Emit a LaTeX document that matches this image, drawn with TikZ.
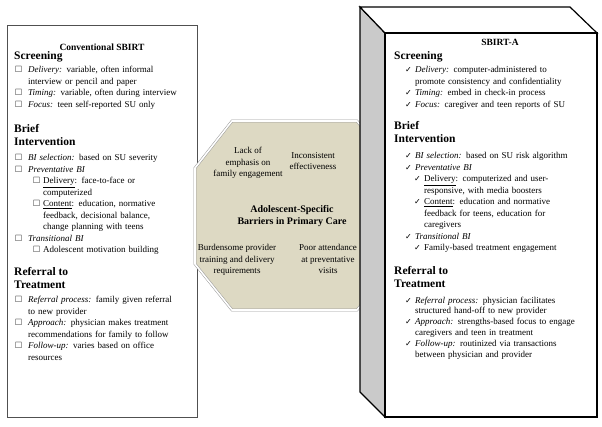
\documentclass[tikz,border=0pt]{standalone}
\usepackage{fontspec}
\usepackage{amssymb}
\setmainfont{Liberation Serif}
\newfontfamily\chkfont{DejaVu Sans}
\definecolor{octfill}{HTML}{DDD9C3}
\definecolor{sidegray}{HTML}{CACACA}
\definecolor{boxline}{HTML}{505050}

\newcommand{\sqitem}[1]{\par\noindent\hspace*{1pt}\makebox[13pt][l]{$\square$}#1}
\newcommand{\sqsub}[1]{\par\noindent\hspace*{19pt}\makebox[10pt][l]{$\square$}#1}
\newcommand{\ckitem}[1]{\par\noindent\hspace*{11pt}\makebox[10pt][l]{\chkfont\footnotesize ✓}#1}
\newcommand{\cksub}[1]{\par\noindent\hspace*{20pt}\makebox[10pt][l]{\chkfont\footnotesize ✓}#1}
\newcommand{\more}[2]{\par\noindent\hspace*{#1}#2}

\tikzset{
	listtext/.style={anchor=north west, inner sep=0pt, text width=210pt, align=left, font=\fontsize{9}{11.5}\selectfont},
	heading/.style={anchor=north west, inner sep=0pt, align=left, font=\fontsize{11.5}{13}\selectfont\bfseries},
	boxtitle/.style={inner sep=0pt, font=\fontsize{9.5}{11}\selectfont\bfseries},
	barrier/.style={inner sep=0pt, align=center, font=\fontsize{9}{11.5}\selectfont},
}

\begin{document}
\begin{tikzpicture}[x=1pt,y=-1pt]
	\useasboundingbox[fill=white] (0,0) rectangle (602,426);
	% conventional SBIRT
	\draw[boxline,line width=0.8pt] (7,25) rectangle (197,417);
	\node[boxtitle] (convtitle) at (102,47) {Conventional SBIRT};
	\node[heading] (lscreen) at (14,51) {Screening};
	\node[listtext] (lscreenitems) at (14,61) {
		\sqitem{\textit{Delivery:} variable, often informal}
		\more{14pt}{interview or pencil and paper}
		\sqitem{\textit{Timing:} variable, often during interview}
		\sqitem{\textit{Focus:} teen self-reported SU only}};
	\node[heading] (lbrief) at (14,124) {Brief\\Intervention};
	\node[listtext] (lbriefitems) at (14,149) {
		\sqitem{\textit{BI selection:} based on SU severity}
		\sqitem{\textit{Preventative BI}}
		\sqsub{\underline{Delivery}: face-to-face or}
		\more{29pt}{computerized}
		\sqsub{\underline{Content}: education, normative}
		\more{29pt}{feedback, decisional balance,}
		\more{29pt}{change planning with teens}
		\sqitem{\textit{Transitional BI}}
		\sqsub{Adolescent motivation building}};
	\node[heading] (lrefer) at (14,267) {Referral to\\Treatment};
	\node[listtext] (lreferitems) at (14,291) {
		\sqitem{\textit{Referral process:} family given referral}
		\more{14pt}{to new provider}
		\sqitem{\textit{Approach:} physician makes treatment}
		\more{14pt}{recommendations for family to follow}
		\sqitem{\textit{Follow-up:} varies based on office}
		\more{14pt}{resources}};
	% barriers
	\draw[draw=gray!80,double=white,double distance=1.6pt,line width=0.5pt,fill=octfill]
		(232,121) -- (357,121) -- (395,168) -- (395,264) -- (357,310) -- (232,310) -- (195,264) -- (195,168) -- cycle;
	\node[barrier] (lackeng) at (248,163) {Lack of\\emphasis on\\family engagement};
	\node[barrier] (inconsist) at (313,161) {Inconsistent\\effectiveness};
	\node[barrier,font=\fontsize{10}{12}\selectfont\bfseries] (barrierlbl) at (292,216) {Adolescent-Specific\\Barriers in Primary Care};
	\node[barrier] (burden) at (237,260) {Burdensome provider\\training and delivery\\requirements};
	\node[barrier] (poorattend) at (328,259) {Poor attendance\\at preventative\\visits};
	% SBIRT-A
	\draw[line width=1.2pt,fill=sidegray] (360,7) -- (385,33) -- (385,417) -- (360,392) -- cycle;
	\draw[line width=1.2pt,fill=white] (360,7) -- (570,7) -- (597,33) -- (385,33) -- cycle;
	\draw[line width=1.2pt,fill=white] (385,33) rectangle (597,417);
	\node[boxtitle] (atitle) at (500,42) {SBIRT-A};
	\node[heading] (rscreen) at (394,51) {Screening};
	\node[listtext] (rscreenitems) at (394,61) {
		\ckitem{\textit{Delivery:} computer-administered to}
		\more{21pt}{promote consistency and confidentiality}
		\ckitem{\textit{Timing:} embed in check-in process}
		\ckitem{\textit{Focus:} caregiver and teen reports of SU}};
	\node[heading] (rbrief) at (394,121) {Brief\\Intervention};
	\node[listtext] (rbriefitems) at (394,147) {
		\ckitem{\textit{BI selection:} based on SU risk algorithm}
		\ckitem{\textit{Preventative BI}}
		\cksub{\underline{Delivery}: computerized and user-}
		\more{30pt}{responsive, with media boosters}
		\cksub{\underline{Content}: education and normative}
		\more{30pt}{feedback for teens, education for}
		\more{30pt}{caregivers}
		\ckitem{\textit{Transitional BI}}
		\cksub{Family-based treatment engagement}};
	\node[heading] (rrefer) at (394,266) {Referral to\\Treatment};
	\node[listtext,font=\fontsize{9}{10.8}\selectfont] (rreferitems) at (394,292) {
		\ckitem{\textit{Referral process:} physician facilitates}
		\more{21pt}{structured hand-off to new provider}
		\ckitem{\textit{Approach:} strengths-based focus to engage}
		\more{21pt}{caregivers and teen in treatment}
		\ckitem{\textit{Follow-up:} routinized via transactions}
		\more{21pt}{between physician and provider}};
\end{tikzpicture}
\end{document}
